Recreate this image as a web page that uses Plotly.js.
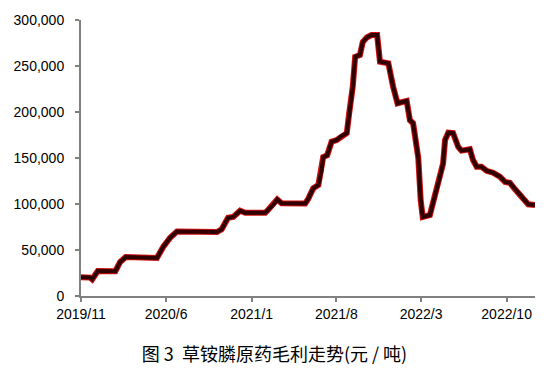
<!DOCTYPE html>
<html>
<head>
<meta charset="utf-8">
<script src="https://cdn.plot.ly/plotly-3.0.1.min.js"></script>
<style>html,body{margin:0;padding:0;background:#fff;}#chart{width:549px;height:369px;}</style>
</head>
<body>
<div id="chart"></div>
<script>
const dates = [
 '2019-11-01','2019-11-24','2019-11-29','2019-12-13','2020-01-26','2020-02-07','2020-02-21','2020-05-09',
 '2020-05-25','2020-06-11','2020-06-28','2020-10-06','2020-10-18','2020-11-03','2020-11-16','2020-12-03',
 '2020-12-16','2021-02-04','2021-02-12','2021-02-24','2021-03-06','2021-03-17','2021-05-15','2021-05-23',
 '2021-06-04','2021-06-17','2021-06-25','2021-06-29','2021-07-09','2021-07-20','2021-08-02','2021-08-14',
 '2021-08-27','2021-09-02','2021-09-11','2021-09-17','2021-09-29','2021-10-06','2021-10-16','2021-10-28',
 '2021-11-11','2021-11-18','2021-12-09','2021-12-21','2022-01-01','2022-01-24','2022-02-01','2022-02-09',
 '2022-02-14','2022-02-22','2022-02-28','2022-03-05','2022-03-23','2022-04-05','2022-04-17','2022-04-25',
 '2022-04-30','2022-05-08','2022-05-20','2022-06-02','2022-06-10','2022-07-01','2022-07-09','2022-07-18',
 '2022-07-30','2022-08-12','2022-08-28','2022-09-14','2022-09-27','2022-10-09','2022-10-22','2022-11-03',
 '2022-11-11','2022-11-24','2022-12-11'
];
const margin = [
 20300,20000,18200,27200,27000,37000,42400,41300,
 53600,63400,70000,69500,72500,85000,86000,92700,
 90500,90500,94000,99000,105000,100800,100500,106000,
 117000,120700,137000,151000,153000,167700,169600,174000,
 177000,198600,227500,260000,262000,276000,281000,283700,
 283700,254700,253000,227500,209500,212000,191000,187700,
 175000,150000,104000,86000,88000,108000,129700,144000,
 169600,177500,177000,162000,158000,159500,147800,140500,
 140500,136000,134000,129700,124000,123000,116000,109800,
 105000,99700,99000
];
const tickDates = ['2019-11-01','2020-06-01','2021-01-01','2021-08-01','2022-03-01','2022-10-01'];
const tickLabels = ['2019/11','2020/6','2021/1','2021/8','2022/3','2022/10'];
const yTicks = [0,50000,100000,150000,200000,250000,300000];
const yLabels = ['0','50,000','100,000','150,000','200,000','250,000','300,000'];
const titleText = '图 3  草铵膦原药毛利走势(元 / 吨)';

const traces = [
 {x: dates, y: margin, type:'scatter', mode:'lines', line:{color:'#d01010', width:6, shape:'linear'}, hoverinfo:'skip'},
 {x: dates, y: margin, type:'scatter', mode:'lines', line:{color:'#300000', width:4, shape:'linear'}}
];
const axisFont = {family:'Liberation Sans, Arial, sans-serif', size:14, color:'#000'};
const layout = {
 width:549, height:369,
 margin:{l:81, r:14, t:20, b:73},
 paper_bgcolor:'#fff', plot_bgcolor:'#fff',
 showlegend:false,
 xaxis:{type:'date', range:['2019-11-01','2022-12-11'], tickmode:'array', tickvals:tickDates, ticktext:tickLabels,
   showgrid:false, zeroline:false, showline:true, linecolor:'#808080', linewidth:2,
   ticks:'outside', ticklen:4, tickcolor:'#808080', tickwidth:2, tickfont:axisFont},
 yaxis:{range:[0,300000], tickmode:'array', tickvals:yTicks, ticktext:yLabels,
   showgrid:false, zeroline:false, showline:true, linecolor:'#808080', linewidth:2,
   ticks:'outside', ticklen:4, tickcolor:'#808080', tickwidth:2, tickfont:axisFont, ticklabelstandoff:8},
 title:{text:titleText, x:0.5, xanchor:'center', y:0.038, yanchor:'middle', yref:'container',
   font:{family:'Noto Sans CJK SC, sans-serif', size:18, color:'#000'}}
};
Plotly.newPlot('chart', traces, layout, {staticPlot:true, displayModeBar:false});
</script>
</body>
</html>
